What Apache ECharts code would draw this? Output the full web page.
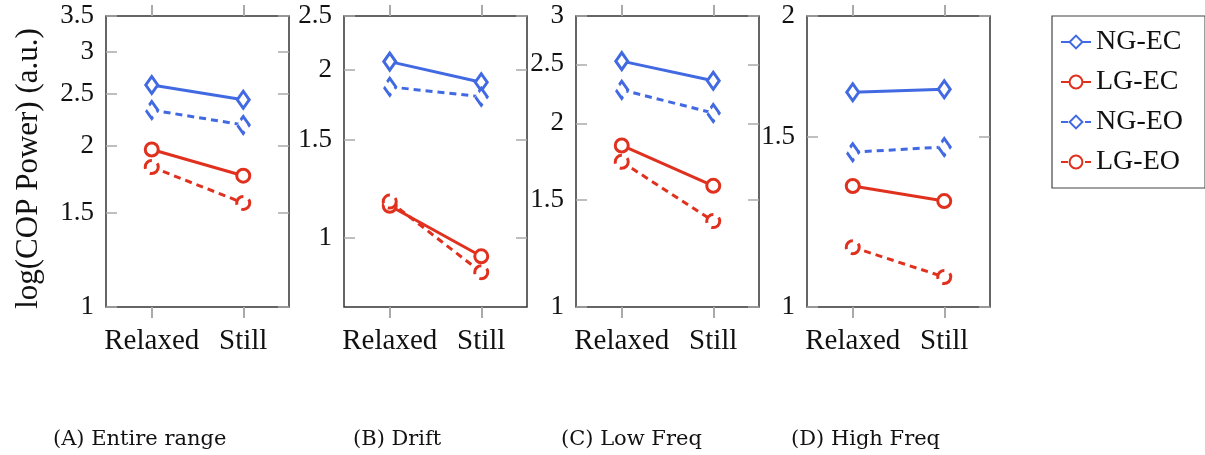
<!DOCTYPE html>
<html>
<head>
<meta charset="utf-8">
<script src="https://cdn.jsdelivr.net/npm/echarts@6/dist/echarts.min.js"></script>
<style>
  html, body { margin: 0; padding: 0; background: #fff; }
  #main { width: 1205px; height: 455px; }
</style>
</head>
<body>
<div id="main"></div>
<script>
// data
var categories = ['Relaxed', 'Still'];
var panelNames = ['(A) Entire range', '(B) Drift', '(C) Low Freq', '(D) High Freq'];
var ngEC = [[2.60, 2.44], [2.07, 1.90], [2.53, 2.35], [1.668, 1.68]];
var lgEC = [[1.97, 1.76], [1.14, 0.925], [1.84, 1.58], [1.334, 1.287]];
var ngEO = [[2.335, 2.19], [1.865, 1.79], [2.27, 2.08], [1.446, 1.464]];
var lgEO = [[1.827, 1.565], [1.16, 0.866], [1.73, 1.383], [1.153, 1.074]];
var yMin = [1, 0.75, 1, 1];
var yMax = [3.5, 2.5, 3, 2];
var yTicks = [[1, 1.5, 2, 2.5, 3, 3.5], [1, 1.5, 2, 2.5], [1, 1.5, 2, 2.5, 3], [1, 1.5, 2]];

var blue = '#4169e1';
var red = '#e0311f';
var serif = 'Liberation Serif';
var gridLeft = [106, 344, 576, 807];
var captionLeft = [48, 348, 556, 786];

var myChart = echarts.init(document.getElementById('main'));

var grids = [], xAxes = [], yAxes = [], series = [], titles = [];

for (var i = 0; i < 4; i++) {
    grids.push({
        left: gridLeft[i], top: 16, width: 183, height: 291,
        show: true, borderColor: '#333', borderWidth: 1.5, containLabel: false
    });
    // bottom x axis
    xAxes.push({
        type: 'category', data: categories, gridIndex: i, position: 'bottom',
        boundaryGap: true,
        axisLine: { show: false },
        axisTick: { show: true, alignWithLabel: true, inside: false, length: 11, lineStyle: { color: '#aaa', width: 2 } },
        axisLabel: { fontFamily: serif, fontSize: 29, color: '#111', margin: 20, interval: 0, hideOverlap: false }
    });
    // top x axis, ticks only
    xAxes.push({
        type: 'category', data: categories, gridIndex: i, position: 'top',
        boundaryGap: true,
        axisLine: { show: false },
        axisTick: { show: true, alignWithLabel: true, inside: false, length: 11, lineStyle: { color: '#aaa', width: 2 } },
        axisLabel: { show: false }
    });
    yAxes.push({
        type: 'log', gridIndex: i, min: yMin[i], max: yMax[i], position: 'left',
        name: i === 0 ? 'log(COP Power) (a.u.)' : '',
        nameLocation: 'middle', nameGap: 62, nameRotate: 90,
        nameTextStyle: { fontFamily: serif, fontSize: 31, color: '#111', padding: [0, 14, 0, 0] },
        axisLine: { show: false },
        splitLine: { show: false },
        axisTick: { show: true, inside: true, length: 11, customValues: yTicks[i], lineStyle: { color: '#aaa', width: 1.5 } },
        axisLabel: { fontFamily: serif, fontSize: 27, color: '#111', margin: 12, customValues: yTicks[i] },
        minorTick: { show: false }
    });
    // right y axis, ticks only
    yAxes.push({
        type: 'log', gridIndex: i, min: yMin[i], max: yMax[i], position: 'right',
        axisLine: { show: false },
        splitLine: { show: false },
        axisTick: { show: true, inside: true, length: 11, customValues: yTicks[i], lineStyle: { color: '#aaa', width: 1.5 } },
        axisLabel: { show: false }
    });

    var defs = [
        { name: 'NG-EC', data: ngEC[i], color: blue, symbol: 'diamond', size: [12, 17], dash: 'solid' },
        { name: 'LG-EC', data: lgEC[i], color: red, symbol: 'circle', size: 13, dash: 'solid' },
        { name: 'NG-EO', data: ngEO[i], color: blue, symbol: 'diamond', size: [12, 17], dash: [7, 5] },
        { name: 'LG-EO', data: lgEO[i], color: red, symbol: 'circle', size: 13, dash: [7, 5] }
    ];
    defs.forEach(function (d) {
        series.push({
            name: d.name, type: 'line', xAxisIndex: i * 2, yAxisIndex: i * 2,
            data: d.data, symbol: d.symbol, symbolSize: d.size, showSymbol: true,
            lineStyle: { color: d.color, width: 3, type: d.dash },
            itemStyle: { color: '#fff', borderColor: d.color, borderWidth: 3, borderType: d.dash === 'solid' ? 'solid' : 'dashed' },
            emphasis: { disabled: true },
            animation: false
        });
    });

    titles.push({
        text: panelNames[i], left: captionLeft[i], top: 424,
        textStyle: { fontFamily: 'DejaVu Serif', fontSize: 21, fontWeight: 'normal', color: '#111' }
    });
}

var option = {
    animation: false,
    title: titles,
    legend: {
        orient: 'vertical', left: 1052, top: 16,
        padding: [12, 22, 12, 8], itemGap: 12, itemWidth: 30, itemHeight: 16,
        borderColor: '#444', borderWidth: 1.2,
        textStyle: { fontFamily: serif, fontSize: 28, color: '#111' },
        data: ['NG-EC', 'LG-EC', 'NG-EO', 'LG-EO']
    },
    grid: grids,
    xAxis: xAxes,
    yAxis: yAxes,
    series: series
};

myChart.setOption(option);
</script>
</body>
</html>
